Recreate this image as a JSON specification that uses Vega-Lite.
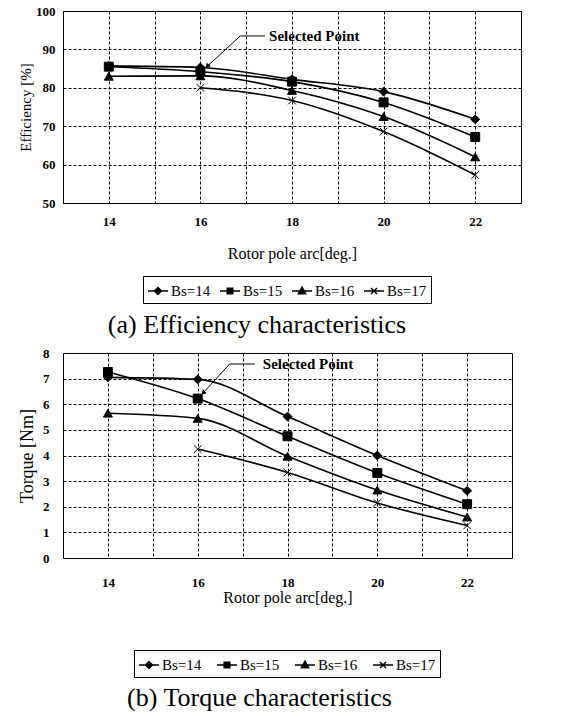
{
  "$schema": "https://vega.github.io/schema/vega-lite/v6.json",
  "padding": {"left": 18, "top": 4, "right": 5, "bottom": 5},
  "background": "white",
  "spacing": 8,
  "resolve": {"scale": {"shape": "independent", "x": "independent", "y": "independent"}, "legend": {"shape": "independent"}},
  "config": {
    "font": "Liberation Serif",
    "view": {"stroke": "black", "strokeWidth": 1},
    "axis": {
      "labelFont": "Liberation Serif", "labelFontSize": 13, "labelFontWeight": "bold", "labelColor": "black", "labelOverlap": false,
      "titleFont": "Liberation Serif", "titleFontSize": 16, "titleFontWeight": "normal", "titleColor": "black",
      "grid": true, "gridColor": "black", "gridDash": [3, 2], "gridOpacity": 1, "gridWidth": 1,
      "ticks": false, "domain": false
    },
    "legend": {
      "orient": "none", "direction": "horizontal", "title": null,
      "labelFont": "Liberation Serif", "labelFontSize": 15, "labelColor": "black",
      "strokeColor": "black", "padding": 4, "symbolSize": 400, "symbolOpacity": 1,
      "symbolStrokeColor": "black", "symbolStrokeWidth": 1.5,
      "columnPadding": 6, "labelOffset": 2
    },
    "title": {"font": "Liberation Serif", "fontSize": 26, "fontWeight": "normal", "color": "black"}
  },
  "datasets": {
    "eff": [
      {"arc": 14, "series": "Bs=14", "v": 85.7},
      {"arc": 16, "series": "Bs=14", "v": 85.3},
      {"arc": 18, "series": "Bs=14", "v": 82.2},
      {"arc": 20, "series": "Bs=14", "v": 79.0},
      {"arc": 22, "series": "Bs=14", "v": 71.8},
      {"arc": 14, "series": "Bs=15", "v": 85.5},
      {"arc": 16, "series": "Bs=15", "v": 84.2},
      {"arc": 18, "series": "Bs=15", "v": 81.6},
      {"arc": 20, "series": "Bs=15", "v": 76.2},
      {"arc": 22, "series": "Bs=15", "v": 67.2},
      {"arc": 14, "series": "Bs=16", "v": 83.0},
      {"arc": 16, "series": "Bs=16", "v": 83.1},
      {"arc": 18, "series": "Bs=16", "v": 79.3},
      {"arc": 20, "series": "Bs=16", "v": 72.5},
      {"arc": 22, "series": "Bs=16", "v": 62.0},
      {"arc": 16, "series": "Bs=17", "v": 80.0},
      {"arc": 18, "series": "Bs=17", "v": 76.7},
      {"arc": 20, "series": "Bs=17", "v": 68.6},
      {"arc": 22, "series": "Bs=17", "v": 57.3}
    ],
    "torque": [
      {"arc": 14, "series": "Bs=14", "v": 7.05},
      {"arc": 16, "series": "Bs=14", "v": 6.97},
      {"arc": 18, "series": "Bs=14", "v": 5.52},
      {"arc": 20, "series": "Bs=14", "v": 4.0},
      {"arc": 22, "series": "Bs=14", "v": 2.62},
      {"arc": 14, "series": "Bs=15", "v": 7.26},
      {"arc": 16, "series": "Bs=15", "v": 6.22},
      {"arc": 18, "series": "Bs=15", "v": 4.75},
      {"arc": 20, "series": "Bs=15", "v": 3.32},
      {"arc": 22, "series": "Bs=15", "v": 2.1},
      {"arc": 14, "series": "Bs=16", "v": 5.65},
      {"arc": 16, "series": "Bs=16", "v": 5.45},
      {"arc": 18, "series": "Bs=16", "v": 3.97},
      {"arc": 20, "series": "Bs=16", "v": 2.65},
      {"arc": 22, "series": "Bs=16", "v": 1.6},
      {"arc": 16, "series": "Bs=17", "v": 4.25},
      {"arc": 18, "series": "Bs=17", "v": 3.34},
      {"arc": 20, "series": "Bs=17", "v": 2.15},
      {"arc": 22, "series": "Bs=17", "v": 1.27}
    ],
    "annEffLine": [
      {"x": 17.41, "y": 93.5, "x2": 16.87, "y2": 93.5},
      {"x": 16.87, "y": 93.5, "x2": 16.15, "y2": 85.6}
    ],
    "annEffHead": [{"x": 16.15, "y": 85.6, "label": "Selected Point", "tx": 17.5, "ty": 93.5}],
    "annTqLine": [
      {"x": 17.27, "y": 7.57, "x2": 16.71, "y2": 7.57},
      {"x": 16.71, "y": 7.57, "x2": 16.12, "y2": 6.44}
    ],
    "annTqHead": [{"x": 16.12, "y": 6.44, "label": "Selected Point", "tx": 17.45, "ty": 7.57}]
  },
  "vconcat": [
    {
      "width": 458,
      "height": 192,
      "title": {"text": "(a) Efficiency characteristics", "orient": "bottom", "anchor": "middle", "dx": -35, "offset": 8},
      "layer": [
        {
          "data": {"name": "eff"},
          "mark": {"type": "line", "interpolate": "monotone", "color": "black", "strokeWidth": 1.6},
          "encoding": {
            "x": {"field": "arc", "type": "quantitative", "scale": {"domain": [13, 23], "nice": false},
                  "axis": {"values": [14, 15, 16, 17, 18, 19, 20, 21, 22], "labelExpr": "datum.value % 2 == 0 ? datum.label : ''",
                           "title": "Rotor pole arc[deg.]", "labelPadding": 12, "titlePadding": 17, "labelOverlap": false}},
            "y": {"field": "v", "type": "quantitative", "scale": {"domain": [50, 100], "nice": false, "zero": false},
                  "axis": {"tickCount": 6, "values": [50, 60, 70, 80, 90, 100], "title": "Efficiency [%]", "titleFontSize": 15, "labelPadding": 8, "titlePadding": 2, "labelOverlap": false}},
            "detail": {"field": "series"}
          }
        },
        {
          "data": {"name": "eff"},
          "transform": [{"filter": "datum.series == 'Bs=14'"}],
          "mark": {"type": "point", "shape": "diamond", "filled": true, "fill": "black", "stroke": "black", "strokeWidth": 1, "opacity": 1, "size": 80},
          "encoding": {"x": {"field": "arc", "type": "quantitative"}, "y": {"field": "v", "type": "quantitative"}}
        },
        {
          "data": {"name": "eff"},
          "transform": [{"filter": "datum.series == 'Bs=15'"}],
          "mark": {"type": "point", "shape": "square", "filled": true, "fill": "black", "stroke": "black", "strokeWidth": 1, "opacity": 1, "size": 80},
          "encoding": {"x": {"field": "arc", "type": "quantitative"}, "y": {"field": "v", "type": "quantitative"}}
        },
        {
          "data": {"name": "eff"},
          "transform": [{"filter": "datum.series == 'Bs=16'"}],
          "mark": {"type": "point", "shape": "triangle-up", "filled": true, "fill": "black", "stroke": "black", "strokeWidth": 1, "opacity": 1, "size": 80},
          "encoding": {"x": {"field": "arc", "type": "quantitative"}, "y": {"field": "v", "type": "quantitative"}}
        },
        {
          "data": {"name": "eff"},
          "transform": [{"filter": "datum.series == 'Bs=17'"}],
          "mark": {"type": "point", "shape": "M-1,-1L1,1M1,-1L-1,1", "filled": false, "stroke": "black", "strokeWidth": 1, "opacity": 1, "size": 60},
          "encoding": {"x": {"field": "arc", "type": "quantitative"}, "y": {"field": "v", "type": "quantitative"}}
        },
        {
          "data": {"name": "eff"},
          "mark": {"type": "point", "filled": false, "color": "black", "stroke": "black", "strokeWidth": 1.5, "opacity": 0},
          "encoding": {
            "x": {"field": "arc", "type": "quantitative"},
            "y": {"field": "v", "type": "quantitative"},
            "shape": {"field": "series", "type": "nominal",
                      "legend": {"legendX": 80, "legendY": 265},
                      "scale": {"domain": ["Bs=14", "Bs=15", "Bs=16", "Bs=17"],
                                "range": ["M-1,0H1M0,-0.35L0.35,0L0,0.35L-0.35,0ZM0,-0.2L0.2,0L0,0.2L-0.2,0ZM0,-0.07L0.07,0L0,0.07L-0.07,0Z", "M-1,0H1M-0.28,-0.28H0.28V0.28H-0.28ZM-0.14,-0.14H0.14V0.14H-0.14ZM-0.03,-0.03H0.03V0.03H-0.03Z", "M-1,0H1M0,-0.38L0.36,0.28H-0.36ZM0,-0.17L0.18,0.16H-0.18Z", "M-1,0H1M-0.3,-0.3L0.3,0.3M0.3,-0.3L-0.3,0.3"]}}
          }
        },
        {
          "data": {"name": "annEffLine"},
          "mark": {"type": "rule", "color": "black", "strokeWidth": 1},
          "encoding": {
            "x": {"field": "x", "type": "quantitative"}, "y": {"field": "y", "type": "quantitative"},
            "x2": {"field": "x2"}, "y2": {"field": "y2"}
          }
        },
        {
          "data": {"name": "annEffHead"},
          "mark": {"type": "point", "shape": "triangle-up", "filled": true, "color": "black", "size": 30, "angle": 222, "opacity": 1},
          "encoding": {"x": {"field": "x", "type": "quantitative"}, "y": {"field": "y", "type": "quantitative"}}
        },
        {
          "data": {"name": "annEffHead"},
          "mark": {"type": "text", "align": "left", "baseline": "middle", "font": "Liberation Serif", "fontSize": 15, "fontWeight": "bold", "color": "black"},
          "encoding": {"x": {"field": "tx", "type": "quantitative"}, "y": {"field": "ty", "type": "quantitative"}, "text": {"field": "label"}}
        }
      ]
    },
    {
      "width": 449,
      "height": 205,
      "title": {"text": "(b) Torque characteristics", "orient": "bottom", "anchor": "middle", "dx": -28, "offset": 7},
      "layer": [
        {
          "data": {"name": "torque"},
          "mark": {"type": "line", "interpolate": "monotone", "color": "black", "strokeWidth": 1.6},
          "encoding": {
            "x": {"field": "arc", "type": "quantitative", "scale": {"domain": [13, 23], "nice": false},
                  "axis": {"values": [14, 15, 16, 17, 18, 19, 20, 21, 22], "labelExpr": "datum.value % 2 == 0 ? datum.label : ''",
                           "title": "Rotor pole arc[deg.]", "labelPadding": 18, "titlePadding": 0, "labelOverlap": false}},
            "y": {"field": "v", "type": "quantitative", "scale": {"domain": [0, 8], "nice": false},
                  "axis": {"tickCount": 9, "values": [0, 1, 2, 3, 4, 5, 6, 7, 8], "title": "Torque [Nm]", "titleFontSize": 18, "labelPadding": 14, "titlePadding": 6, "labelOverlap": false}},
            "detail": {"field": "series"}
          }
        },
        {
          "data": {"name": "torque"},
          "transform": [{"filter": "datum.series == 'Bs=14'"}],
          "mark": {"type": "point", "shape": "diamond", "filled": true, "fill": "black", "stroke": "black", "strokeWidth": 1, "opacity": 1, "size": 80},
          "encoding": {"x": {"field": "arc", "type": "quantitative"}, "y": {"field": "v", "type": "quantitative"}}
        },
        {
          "data": {"name": "torque"},
          "transform": [{"filter": "datum.series == 'Bs=15'"}],
          "mark": {"type": "point", "shape": "square", "filled": true, "fill": "black", "stroke": "black", "strokeWidth": 1, "opacity": 1, "size": 80},
          "encoding": {"x": {"field": "arc", "type": "quantitative"}, "y": {"field": "v", "type": "quantitative"}}
        },
        {
          "data": {"name": "torque"},
          "transform": [{"filter": "datum.series == 'Bs=16'"}],
          "mark": {"type": "point", "shape": "triangle-up", "filled": true, "fill": "black", "stroke": "black", "strokeWidth": 1, "opacity": 1, "size": 80},
          "encoding": {"x": {"field": "arc", "type": "quantitative"}, "y": {"field": "v", "type": "quantitative"}}
        },
        {
          "data": {"name": "torque"},
          "transform": [{"filter": "datum.series == 'Bs=17'"}],
          "mark": {"type": "point", "shape": "M-1,-1L1,1M1,-1L-1,1", "filled": false, "stroke": "black", "strokeWidth": 1, "opacity": 1, "size": 60},
          "encoding": {"x": {"field": "arc", "type": "quantitative"}, "y": {"field": "v", "type": "quantitative"}}
        },
        {
          "data": {"name": "torque"},
          "mark": {"type": "point", "filled": false, "color": "black", "stroke": "black", "strokeWidth": 1.5, "opacity": 0},
          "encoding": {
            "x": {"field": "arc", "type": "quantitative"},
            "y": {"field": "v", "type": "quantitative"},
            "shape": {"field": "series", "type": "nominal",
                      "legend": {"legendX": 71, "legendY": 297, "columnPadding": 12},
                      "scale": {"domain": ["Bs=14", "Bs=15", "Bs=16", "Bs=17"],
                                "range": ["M-1,0H1M0,-0.35L0.35,0L0,0.35L-0.35,0ZM0,-0.2L0.2,0L0,0.2L-0.2,0ZM0,-0.07L0.07,0L0,0.07L-0.07,0Z", "M-1,0H1M-0.28,-0.28H0.28V0.28H-0.28ZM-0.14,-0.14H0.14V0.14H-0.14ZM-0.03,-0.03H0.03V0.03H-0.03Z", "M-1,0H1M0,-0.38L0.36,0.28H-0.36ZM0,-0.17L0.18,0.16H-0.18Z", "M-1,0H1M-0.3,-0.3L0.3,0.3M0.3,-0.3L-0.3,0.3"]}}
          }
        },
        {
          "data": {"name": "annTqLine"},
          "mark": {"type": "rule", "color": "black", "strokeWidth": 1},
          "encoding": {
            "x": {"field": "x", "type": "quantitative"}, "y": {"field": "y", "type": "quantitative"},
            "x2": {"field": "x2"}, "y2": {"field": "y2"}
          }
        },
        {
          "data": {"name": "annTqHead"},
          "mark": {"type": "point", "shape": "triangle-up", "filled": true, "color": "black", "size": 30, "angle": 225, "opacity": 1},
          "encoding": {"x": {"field": "x", "type": "quantitative"}, "y": {"field": "y", "type": "quantitative"}}
        },
        {
          "data": {"name": "annTqHead"},
          "mark": {"type": "text", "align": "left", "baseline": "middle", "font": "Liberation Serif", "fontSize": 15, "fontWeight": "bold", "color": "black"},
          "encoding": {"x": {"field": "tx", "type": "quantitative"}, "y": {"field": "ty", "type": "quantitative"}, "text": {"field": "label"}}
        }
      ]
    }
  ]
}
